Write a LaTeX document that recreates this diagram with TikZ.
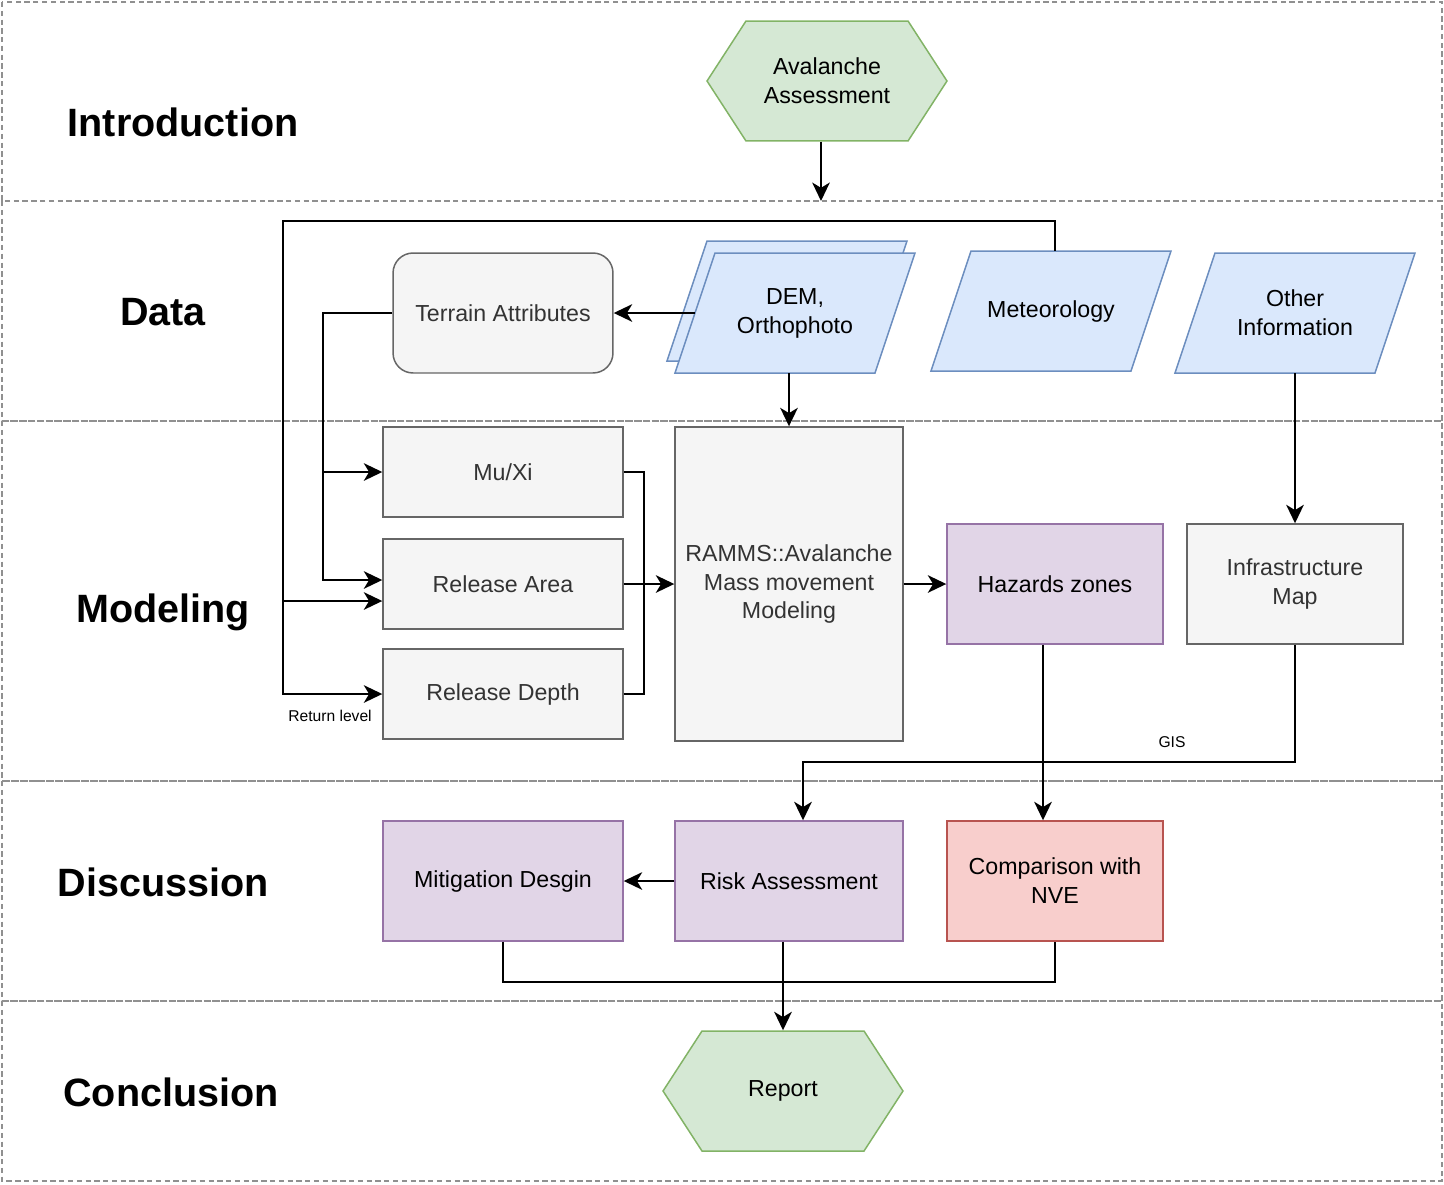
\documentclass[tikz,border=0pt]{standalone}
\usepackage{fontspec}
\setmainfont{Liberation Sans}
\usetikzlibrary{arrows.meta,shapes.symbols,calc}

\definecolor{greenfill}{HTML}{D5E8D4}
\definecolor{greenline}{HTML}{82B366}
\definecolor{bluefill}{HTML}{DAE8FC}
\definecolor{blueline}{HTML}{6C8EBF}
\definecolor{grayfill}{HTML}{F5F5F5}
\definecolor{grayline}{HTML}{666666}
\definecolor{graytext}{HTML}{333333}
\definecolor{purplefill}{HTML}{E1D5E7}
\definecolor{purpleline}{HTML}{9673A6}
\definecolor{redfill}{HTML}{F8CECC}
\definecolor{redline}{HTML}{B85450}
\definecolor{laneline}{HTML}{909090}

\tikzset{
	lane/.style={draw=laneline, line width=0.6pt, dash pattern=on 3pt off 2pt},
	title/.style={font=\fontsize{22.5}{27}\selectfont\bfseries},
	box/.style={draw, line width=0.85pt, align=center, inner sep=2pt, font=\fontsize{13.2}{16.5}\selectfont},
	hexa/.style={box, shape=signal, signal to=west and east, signal pointer angle=114, fill=greenfill, draw=greenline, minimum width=4.8cm, minimum height=2.4cm},
	datashape/.style={fill=bluefill, draw=blueline, line width=0.85pt},
	para/.style={align=center, inner sep=2pt, font=\fontsize{13.2}{16.5}\selectfont, minimum width=4cm, minimum height=2.4cm},
	graybox/.style={box, fill=grayfill, draw=grayline, text=graytext},
	purplebox/.style={box, fill=purplefill, draw=purpleline, minimum width=4.32cm, minimum height=2.4cm},
	arr/.style={line width=1.1pt, -{Stealth[length=10.5pt, width=10pt, inset=3pt]}},
	line/.style={line width=1.1pt},
	small/.style={font=\fontsize{8.9}{10}\selectfont}
}

\begin{document}
\begin{tikzpicture}[x=0.02cm, y=-0.02cm]
	\useasboundingbox (0,0) rectangle (1444,1184);
	% Draw the lanes
	\draw[lane] (2,2) rectangle (1442,201);
	\draw[lane] (2,201) rectangle (1442,421);
	\draw[lane] (2,421) rectangle (1442,781);
	\draw[lane] (2,781) rectangle (1442,1001);
	\draw[lane] (2,1001) rectangle (1442,1181);
	% Lane titles
	\node[title] (tintro) at (183,122) {Introduction};
	\node[title] (tdata) at (163,312) {Data};
	\node[title] (tmodel) at (163,612) {Modeling};
	\node[title] (tdisc) at (163,882) {Discussion};
	\node[title] (tconc) at (171,1092) {Conclusion};
	% Draw the data parallelograms
	\foreach \cx/\cy in {787/301, 795/313, 1051/311, 1295/313} {
		\draw[datashape] (\cx-120,\cy+60) -- (\cx+80,\cy+60) -- (\cx+120,\cy-60) -- (\cx-80,\cy-60) -- cycle;
	}
	% Introduction and data
	\node[hexa] (intro) at (827,81) {Avalanche\\Assessment};
	\node[para] (dem) at (795,313) {DEM,\\Orthophoto};
	\node[para] (meteo) at (1051,311) {Meteorology};
	\node[para] (other) at (1295,313) {Other\\Information};
	\node[graybox, rounded corners=20*0.02cm, minimum width=4.4cm, minimum height=2.4cm] (terrain) at (503,313) {Terrain Attributes};
	% Modeling
	\node[graybox, minimum width=4.8cm, minimum height=1.8cm] (muxi) at (503,472) {Mu/Xi};
	\node[graybox, minimum width=4.8cm, minimum height=1.8cm] (rarea) at (503,584) {Release Area};
	\node[graybox, minimum width=4.8cm, minimum height=1.8cm] (rdepth) at (503,694) {Release Depth};
	\node[graybox, minimum width=4.56cm, minimum height=6.28cm] (ramms) at (789,584) {RAMMS::Avalanche\\Mass movement\\Modeling};
	\node[purplebox] (hazard) at (1055,584) {Hazards zones};
	\node[graybox, minimum width=4.32cm, minimum height=2.4cm] (infra) at (1295,584) {Infrastructure\\Map};
	% Discussion and conclusion
	\node[purplebox, minimum width=4.8cm] (mitig) at (503,881) {Mitigation Desgin};
	\node[purplebox, minimum width=4.56cm] (risk) at (789,881) {Risk Assessment};
	\node[box, fill=redfill, draw=redline, minimum width=4.32cm, minimum height=2.4cm] (compare) at (1055,881) {Comparison with\\NVE};
	\node[hexa] (report) at (783,1091) {Report};
	% Small labels
	\node[small] (lreturn) at (330,716) {Return level};
	\node[small] (lgis) at (1172,742) {GIS};
	% Draw the connectors
	\coordinate (datatop) at (821,201);
	\draw[arr] (intro.south -| datatop) -- (datatop);
	\draw[arr] (dem.west) -- (terrain.east);
	\draw[arr] (dem.south -| ramms.north) -- (ramms.north);
	\draw[arr] (1055,0 |- meteo.north) |- (283,221) |- (rdepth.west);
	\draw[arr] (283,601) -- ($(rarea.west)+(0,17)$);
	\draw[arr] (terrain.west) -| (323,580) -- ($(rarea.west)+(0,-4)$);
	\draw[arr] (323,472) -- (muxi.west);
	\draw[line] (muxi.east) -| ($(rarea.east)+(20,0)$);
	\draw[line] (rdepth.east) -| ($(rarea.east)+(20,0)$);
	\draw[arr] (rarea.east) -- (ramms.west);
	\draw[arr] (ramms.east) -- (hazard.west);
	\draw[arr] (other.south) -- (infra.north);
	\draw[arr] (infra.south) -- ++(0,117) -| ($(risk.north)+(14,0)$);
	\draw[arr] ($(hazard.south)+(-12,0)$) -- ($(compare.north)+(-12,0)$);
	\draw[arr] (risk.west) -- (mitig.east);
	\draw[line] (mitig.south) -- ++(0,40) -| (compare.south);
	\draw[arr] (risk.south -| report.north) -- (report.north);
\end{tikzpicture}
\end{document}
